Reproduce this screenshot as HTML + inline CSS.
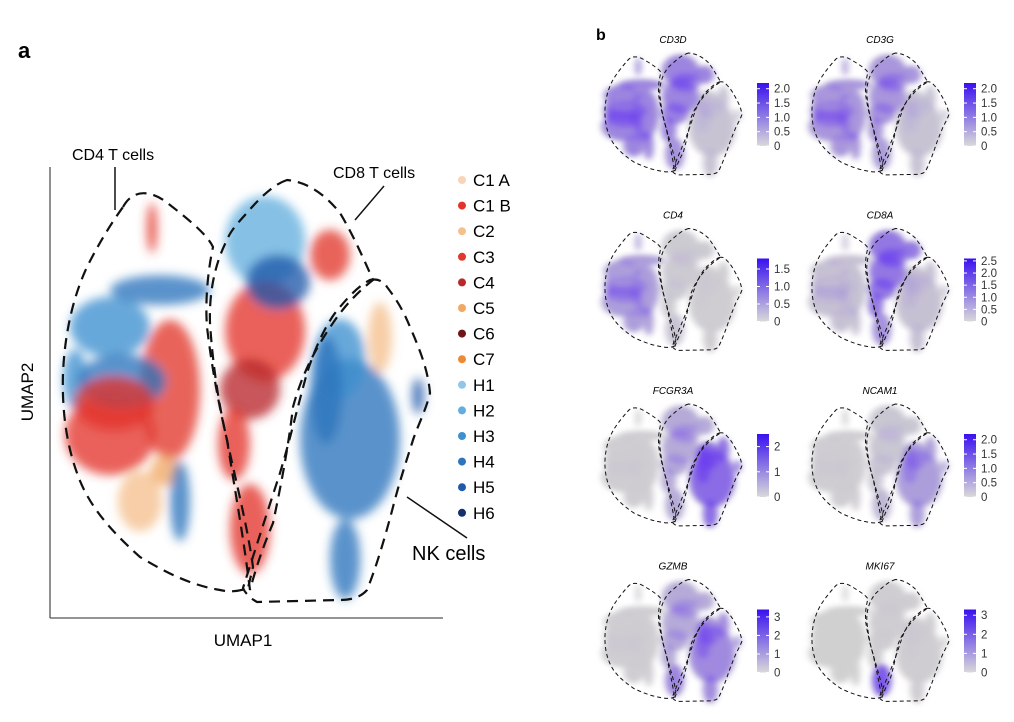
<!DOCTYPE html>
<html><head><meta charset="utf-8">
<style>
body{margin:0;background:#fff;width:1014px;height:722px;overflow:hidden}
svg{display:block;font-family:"Liberation Sans",Arial,sans-serif}
</style></head>
<body>
<svg id="fig" width="1014" height="722" viewBox="0 0 1014 722">
<defs>
<filter id="blur" x="-50%" y="-50%" width="200%" height="200%"><feGaussianBlur stdDeviation="5"/></filter>
<filter id="blur2" x="-50%" y="-50%" width="200%" height="200%"><feGaussianBlur stdDeviation="9"/></filter>
<linearGradient id="cbar" x1="0" y1="1" x2="0" y2="0"><stop offset="0" stop-color="#d9d9d9"/><stop offset="1" stop-color="#3a10f0"/></linearGradient>
</defs>
<text x="18" y="58" font-size="22" font-weight="bold">a</text>
<text x="596" y="40" font-size="16" font-weight="bold">b</text>
<g id="main">
<line x1="50" y1="167" x2="50" y2="618" stroke="#555" stroke-width="1.3"/>
<line x1="50" y1="618" x2="443" y2="618" stroke="#555" stroke-width="1.3"/>
<text x="243" y="646" font-size="17" text-anchor="middle">UMAP1</text>
<text transform="translate(33,392) rotate(-90)" font-size="17" text-anchor="middle">UMAP2</text>
<g id="clusters"></g>
<g id="outlines"></g>
<text x="72" y="160" font-size="16">CD4 T cells</text>
<line x1="115" y1="167" x2="115" y2="210" stroke="#111" stroke-width="1.5"/>
<text x="333" y="178" font-size="16">CD8 T cells</text>
<line x1="384" y1="186" x2="355" y2="220" stroke="#111" stroke-width="1.5"/>
<text x="412" y="560" font-size="20">NK cells</text>
<line x1="407" y1="497" x2="467" y2="538" stroke="#111" stroke-width="1.5"/>
<g id="legend"></g>
</g>
<g id="minis"></g>
</svg>
<script>
const NS="http://www.w3.org/2000/svg";
// legend data
const legendNames=["C1 A","C1 B","C2","C3","C4","C5","C6","C7","H1","H2","H3","H4","H5","H6"];
const legendColors=["#f8d5b8","#e3342b","#f5c08e","#e2372c","#b8292a","#f1a865","#6e1414","#ec8a35","#93c6e6","#63aede","#3e90cf","#2d74bd","#2059aa","#15306e"];
// clusters in UMAP units (x 0..100, y 0..100)
const clusterX=[25.5,15,27.5,15,30,6.3,22.5,28.8,32.5,53.8,53.8,70,50,50,75,72.5,73.8,82.5,92,18,57,69,16,46];
const clusterY=[86,64,72.2,40,50,52.4,25.3,32,25.3,83.1,63.1,80,50.2,19.1,39.1,56.9,12.4,61.7,48.7,52,74,50,47,38];
const clusterRX=[1.3,10,12.5,11.3,7.5,3,5.5,3.8,2.5,10,10,5,7.5,5,12.5,6.3,3.8,3,1.5,11,8,4,10,4];
const clusterRY=[5.6,6.7,3.3,8.9,15.6,6.7,6.7,3.3,8.9,10,11.1,5.6,6.7,10,17.8,8.9,8.9,7.8,4,6,6,12,6,8];
const clusterColor=[1,10,11,1,3,10,2,5,11,9,1,3,4,1,11,10,11,2,12,11,12,11,1,1];
const clusterRegion=[0,0,0,0,0,0,0,0,0,1,1,1,1,3,2,2,2,2,2,0,1,2,0,1];
const xs=v=>50+v*4, ys=v=>615-v*4.5;

function el(tag,attrs,parent){const e=document.createElementNS(NS,tag);for(const k in attrs)e.setAttribute(k,attrs[k]);parent.appendChild(e);return e;}

const cg=document.getElementById('clusters');
cg.setAttribute('filter','url(#blur)');
clusterX.forEach((x,i)=>{
 const e=el('ellipse',{cx:xs(x),cy:ys(clusterY[i]),rx:clusterRX[i]*4,ry:clusterRY[i]*4.5,fill:legendColors[clusterColor[i]],opacity:0.78},cg);
 
 
});

const outlinePaths=[
"M123,207 C132,190 150,188 170,205 C192,222 208,236 213,247 C208,270 205,300 207,327 C212,370 220,410 227,440 C238,490 248,530 253,567 L248,588 C238,592 228,592 220,590 C190,585 165,572 140,557 C110,530 88,505 77,473 C65,440 62,405 63,373 C65,330 74,295 87,267 C98,245 110,225 123,207 Z",
"M287,180 C272,185 258,200 245,215 C236,225 230,232 227,240 C214,265 209,295 210,323 C213,370 220,410 227,440 C235,490 242,530 247,567 L250,590 C258,560 266,540 273,523 C280,490 288,450 293,407 C303,370 318,345 333,323 C345,305 360,290 373,280 C362,255 352,233 340,213 C328,198 310,182 287,180 Z",
"M370,280 C378,278 384,282 387,287 C397,300 404,312 410,327 C420,350 428,370 430,393 C426,410 418,425 413,440 C405,465 398,487 393,507 C383,545 375,570 367,590 C360,598 350,600 340,600 L257,602 C250,598 245,593 243,588 C255,550 268,510 280,473 C290,440 298,405 307,373 C316,345 328,320 340,307 C350,295 360,285 370,280 Z"];
const outlineNames=["cd4-outline","cd8-outline","nk-outline"];
const og=document.getElementById('outlines');
outlinePaths.forEach((d,i)=>{
 const p=el('path',{d:d,fill:'none',stroke:'#111','stroke-width':2.2,'stroke-dasharray':'11 7'},og);
 
 
});

const lg=document.getElementById('legend');
legendNames.forEach((n,i)=>{
 const y=180+i*25.6;
 const g=el('g',{},lg);
 
 
 el('circle',{cx:462,cy:y,r:4,fill:legendColors[i]},g);
 const t=el('text',{x:473,y:y+6,'font-size':17},g);t.textContent=n;
});

// panel b data
const genes=["CD3D","CD3G","CD4","CD8A","FCGR3A","NCAM1","GZMB","MKI67"];
// expression level (0..1) per region [CD4, CD8, NK, tail]
const exprCD3D=[0.6,0.6,0.1,0.5];
const exprCD3G=[0.45,0.45,0.1,0.4];
const exprCD4=[0.4,0.05,0.02,0.1];
const exprCD8A=[0.12,0.7,0.12,0.5];
const exprFCGR3A=[0.02,0.3,0.8,0.3];
const exprNCAM1=[0.02,0.08,0.4,0.2];
const exprGZMB=[0.02,0.3,0.55,0.6];
const exprMKI67=[0.0,0.02,0.02,0.95];
const exprs=[exprCD3D,exprCD3G,exprCD4,exprCD8A,exprFCGR3A,exprNCAM1,exprGZMB,exprMKI67];
const ticks=[["0","0.5","1.0","1.5","2.0"],["0","0.5","1.0","1.5","2.0"],["0","0.5","1.0","1.5"],["0","0.5","1.0","1.5","2.0","2.5"],["0","1","2"],["0","0.5","1.0","1.5","2.0"],["0","1","2","3"],["0","1","2","3"]];
const tickMax=[2.2,2.2,1.8,2.6,2.5,2.2,3.4,3.3];

const mg=document.getElementById('minis');
genes.forEach((gname,gi)=>{
 const col=gi%2,row=Math.floor(gi/2);
 const ox=605+col*207, oy=53+row*175.5;
 const g=el('g',{},mg);
 
 
 const t=el('text',{x:ox+68,y:oy-10,'font-size':10,'font-style':'italic','text-anchor':'middle'},g);
 t.textContent=gname;
 const inner=el('g',{transform:`translate(${ox},${oy}) scale(0.373,0.289) translate(-63,-180)`},g);
 const grey=el('g',{filter:'url(#blur2)'},inner);
 clusterX.forEach((x,i)=>{
  el('ellipse',{cx:xs(x),cy:ys(clusterY[i]),rx:clusterRX[i]*4*1.25,ry:clusterRY[i]*4.5*1.25,fill:'#d0d0d0'},grey);
 });
 const pur=el('g',{filter:'url(#blur2)'},inner);
 clusterX.forEach((x,i)=>{
  const v=exprs[gi][clusterRegion[i]];
  if(v<=0)return;
  const e=el('ellipse',{cx:xs(x),cy:ys(clusterY[i]),rx:clusterRX[i]*4*1.2,ry:clusterRY[i]*4.5*1.2,fill:'#6a3df0',opacity:v*0.85},pur);
  
  
 });
 outlinePaths.forEach((d,i)=>{
  el('path',{d:d,fill:'none',stroke:'#111','stroke-width':1,'stroke-dasharray':'4 3','vector-effect':'non-scaling-stroke'},inner);
 });
 // colorbar
 const bx=ox+152, by0=oy+30, bh=63;
 const cb=el('rect',{x:bx,y:by0,width:12,height:bh,fill:'url(#cbar)'},g);
 
 
 ticks[gi].forEach(tk=>{
  const y=by0+bh-parseFloat(tk)/tickMax[gi]*bh;
  el('line',{x1:bx,x2:bx+3,y1:y,y2:y,stroke:'#fff','stroke-width':1},g);
  el('line',{x1:bx+9,x2:bx+12,y1:y,y2:y,stroke:'#fff','stroke-width':1},g);
  const tt=el('text',{x:bx+17,y:y+4,'font-size':11.5,fill:'#333'},g);tt.textContent=tk;
 });
});
</script>
</body></html>
